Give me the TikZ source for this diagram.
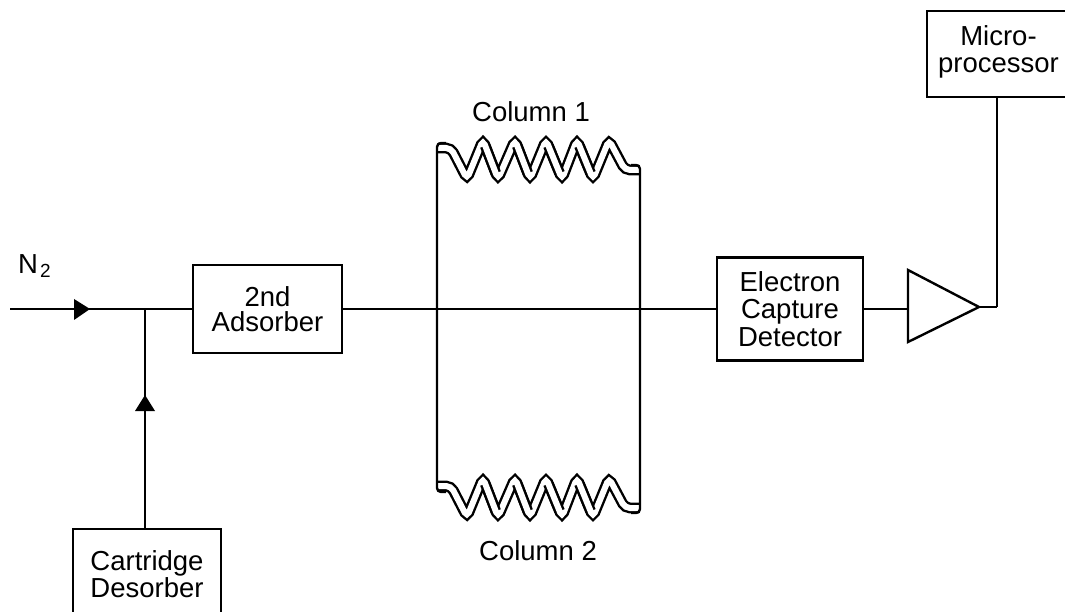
\documentclass[tikz,border=0pt]{standalone}
\usepackage{fontspec}
\setmainfont{Liberation Sans}
\usetikzlibrary{calc}
\newcommand{\helixcoil}[1]{%
  \begin{scope}[yshift=#1]
    \draw[tube,rounded corners=5pt] (438,463) -- (451,463) -- (467,432) -- (483,471) -- (498,432) -- (515,471) -- (530,432) -- (546,471) -- (562,432) -- (577,471) -- (593,432) -- (609,471) -- (625,441) -- (639,441);
    \foreach \xa/\xb in {483/498,515/530,546/562,577/593}{
      \draw[tube edge] ($(\xa,471)!0.15!(\xb,432)$) -- ($(\xa,471)!0.85!(\xb,432)$);
      \draw[tube core] ($(\xa,471)!0.13!(\xb,432)$) -- ($(\xa,471)!0.87!(\xb,432)$);
    }
  \end{scope}}
\tikzset{
  wire/.style={line width=2.4pt,black},
  txt/.style={font=\fontsize{27.5}{27.5}\selectfont},
  block/.style={draw=black,line width=2.4pt,fill=white,inner sep=0pt,align=center,txt},
  label/.style={inner sep=0pt,align=center,txt},
  tube/.style={line width=2.4pt,double=white,double distance=6pt,draw=black,line cap=butt},
  tube edge/.style={line width=10.8pt,draw=black,line cap=butt},
  tube core/.style={line width=6pt,draw=white,line cap=butt},
  tip/.style={fill=black,draw=none}
}
\begin{document}
\begin{tikzpicture}[x=1pt,y=1pt]
\useasboundingbox (0,0) rectangle (1065,611);
\fill[white] (0,0) rectangle (1065,611);
% free ends and junctions
\coordinate (start) at (10,302);
\coordinate (junction) at (145,302);
\coordinate (amp tip) at (979,304);
\coordinate (amp out) at (997,304);
% wires
\draw[wire] (start) -- (junction);
\node[block,minimum width=149pt,minimum height=88pt] (ads) at (267.5,302) {2nd\\[-2.5pt]Adsorber};
\node[block,minimum width=146pt,minimum height=103pt] (ecd) at (790,302) {Electron\\Capture\\Detector};
\draw[wire] (junction) -- (ads.west);
\draw[wire] (ads.east) -- (ecd.west);
% cartridge box, cut off by the bottom edge
\node[label] (cart) at (147,37) {Cartridge\\Desorber};
\coordinate (cart top) at (145,82);
\draw[wire] (73,-3) -- (73,82) -- (221,82) -- (221,-3);
\draw[wire] (cart top) -- (junction);
% columns
\helixcoil{0pt}
\helixcoil{-338pt}
\draw[wire,rounded corners=4pt] (446,468) -- (437,468) -- (437,119) -- (446,119);
\draw[wire,rounded corners=4pt] (631,446) -- (640,446) -- (640,98) -- (631,98);
\node[label] (c1) at (531,499) {Column 1};
\node[label] (c2) at (538,60) {Column 2};
% amplifier
\coordinate (amp in) at (908,302);
\draw[wire] (ecd.east) -- (amp in);
\draw[wire,fill=white,line join=miter] (908,341) -- (908,269) -- (amp tip) -- cycle;
\draw[wire] (amp tip) -- (amp out);
% microprocessor box
\node[label] (mptext) at (998.5,559) {Micro-\\processor};
\draw[wire] (1068,600) -- (927,600) -- (927,514) -- (1068,514);
\coordinate (mp bottom) at (997,514);
\draw[wire] (mp bottom) -- (amp out);
% arrowheads
\fill[tip] (74,312) -- (90,302) -- (74,291) -- cycle;
\fill[tip] (135,200) -- (145,216) -- (155,200) -- cycle;
% N2
\node[label,anchor=base west] (n2) at (18,337) {N\kern2pt\raisebox{-4pt}{\fontsize{19}{19}\selectfont 2}};
\end{tikzpicture}
\end{document}
